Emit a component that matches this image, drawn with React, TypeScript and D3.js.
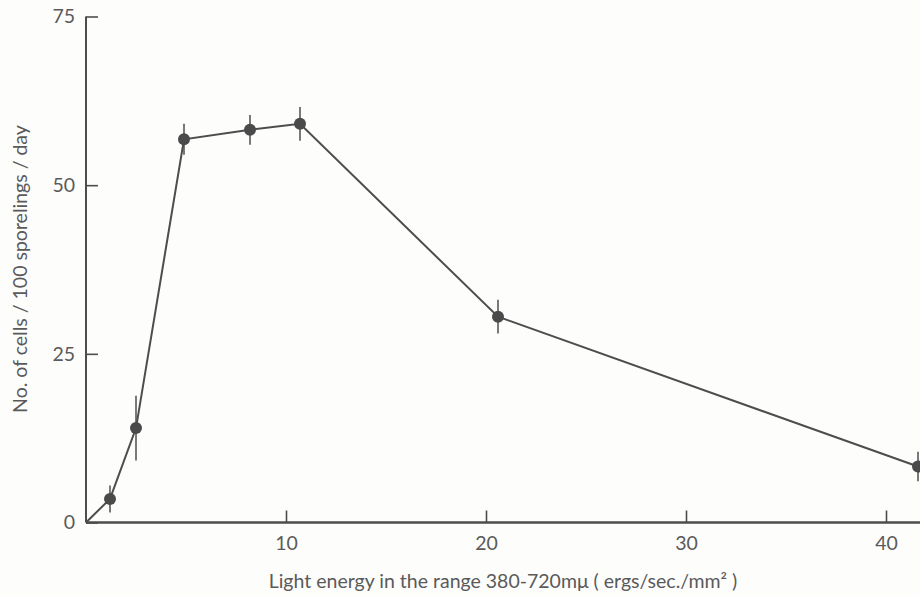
import React, { useEffect, useRef } from 'react';
import * as d3 from 'd3';

// light energy (ergs/sec./mm²) and cell counts
const energy = [1.2, 2.5, 4.9, 8.2, 10.7, 20.6, 41.6];
const cells = [3.5, 14.0, 56.8, 58.2, 59.1, 30.5, 8.3];
const spread = [2.0, 4.8, 2.3, 2.2, 2.5, 2.5, 2.2];
const xTicks = [10, 20, 30, 40];
const yTicks = [0, 25, 50, 75];

const App: React.FC = () => {
  const svgRef = useRef<SVGSVGElement | null>(null);

  useEffect(() => {
    if (!svgRef.current) return;
    const svg = d3.select(svgRef.current);
    svg.selectAll('*').remove();

    const width = 920;
    const height = 596;
    const ink = '#4d4d4d';
    const textInk = '#5a5a5a';
    const font = 'Lato, "Open Sans", sans-serif';
    const fontSize = '19.5px';

    svg.attr('width', width).attr('height', height);

    svg.append('rect').attr('width', width).attr('height', height).attr('fill', '#fdfdfc');

    const x = d3.scaleLinear().domain([0, 41.7]).range([86, 920]);
    const y = d3.scaleLinear().domain([0, 75]).range([522.5, 16.5]);

    // x axis, ticks pointing up into the plot
    const xAxis = svg.append('g')
      .attr('transform', `translate(0, ${y(0)})`)
      .call(d3.axisBottom(x).tickValues(xTicks).tickSize(-12).tickPadding(14).tickFormat(d3.format('d')));
    xAxis.select('.domain').remove();
    xAxis.append('line')
      .attr('x1', x(0)).attr('x2', width)
      .attr('stroke', ink).attr('stroke-width', 2.4);
    xAxis.selectAll('.tick line').attr('stroke', ink).attr('stroke-width', 1.6);
    xAxis.selectAll('.tick text')
      .attr('fill', textInk).style('font-family', font).style('font-size', fontSize);

    // y axis, ticks pointing right
    const yAxis = svg.append('g')
      .attr('transform', `translate(${x(0)}, 0)`)
      .call(d3.axisLeft(y).tickValues(yTicks).tickSize(-12).tickPadding(11).tickFormat(d3.format('d')));
    yAxis.select('.domain').remove();
    yAxis.append('line')
      .attr('y1', y(0)).attr('y2', y(75))
      .attr('stroke', ink).attr('stroke-width', 2);
    yAxis.selectAll('.tick line').attr('stroke', ink).attr('stroke-width', 1.6);
    yAxis.selectAll('.tick text')
      .attr('fill', textInk).style('font-family', font).style('font-size', fontSize);

    // curve starts from the origin
    const pts: [number, number][] = [[0, 0], ...energy.map((e, i) => [e, cells[i]] as [number, number])];
    const line = d3.line<[number, number]>().x(d => x(d[0])).y(d => y(d[1]));
    svg.append('path')
      .attr('d', line(pts) as string)
      .attr('fill', 'none')
      .attr('stroke', ink)
      .attr('stroke-width', 2);

    // error bars
    svg.selectAll('line.err')
      .data(energy)
      .enter()
      .append('line')
      .attr('class', 'err')
      .attr('x1', d => x(d)).attr('x2', d => x(d))
      .attr('y1', (d, i) => y(cells[i] - spread[i]))
      .attr('y2', (d, i) => y(cells[i] + spread[i]))
      .attr('stroke', ink)
      .attr('stroke-width', 1.5);

    // markers
    svg.selectAll('circle.pt')
      .data(energy)
      .enter()
      .append('circle')
      .attr('class', 'pt')
      .attr('cx', d => x(d))
      .attr('cy', (d, i) => y(cells[i]))
      .attr('r', 6)
      .attr('fill', '#4a4a4a');

    // axis titles
    svg.append('text')
      .attr('x', 503)
      .attr('y', 588)
      .attr('text-anchor', 'middle')
      .attr('fill', textInk)
      .style('font-family', font)
      .style('font-size', fontSize)
      .text('Light energy in the range 380-720mμ ( ergs/sec./mm² )');

    svg.append('text')
      .attr('transform', 'translate(27, 269) rotate(-90)')
      .attr('text-anchor', 'middle')
      .attr('fill', textInk)
      .style('font-family', font)
      .style('font-size', fontSize)
      .text('No. of cells / 100 sporelings / day');
  }, []);

  return <svg ref={svgRef} style={{ position: 'absolute', left: 0, top: 0, display: 'block' }}></svg>;
};

export default App;
